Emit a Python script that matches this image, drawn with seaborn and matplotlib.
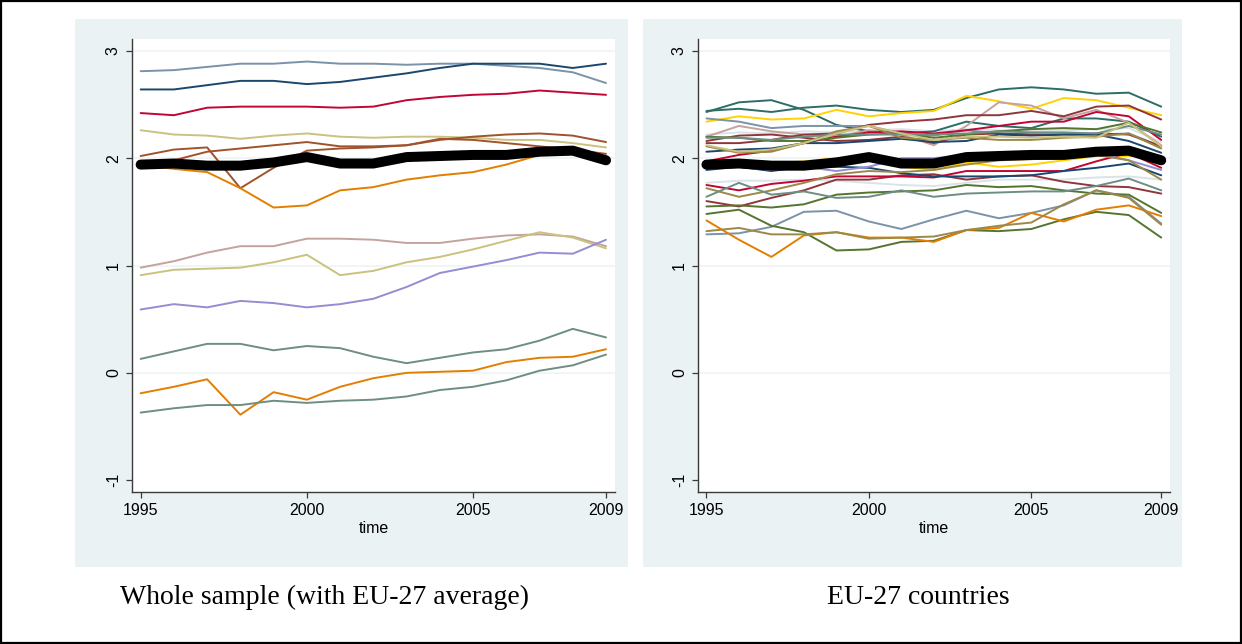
import numpy as np
import pandas as pd
import seaborn as sns
import matplotlib.pyplot as plt
from matplotlib.patches import Rectangle

years = list(range(1995, 2010))

# EU-27 average (thick black line, both panels)
avg = [1.94, 1.95, 1.93, 1.93, 1.96, 2.01, 1.95, 1.95, 2.01, 2.02, 2.03, 2.03, 2.06, 2.07, 1.98]

# left panel: whole sample
L_emidblue = [2.81, 2.82, 2.85, 2.88, 2.88, 2.90, 2.88, 2.88, 2.87, 2.88, 2.88, 2.86, 2.84, 2.80, 2.70]
L_navy = [2.64, 2.64, 2.68, 2.72, 2.72, 2.69, 2.71, 2.75, 2.79, 2.84, 2.88, 2.88, 2.88, 2.84, 2.88]
L_cranberry = [2.42, 2.40, 2.47, 2.48, 2.48, 2.48, 2.47, 2.48, 2.54, 2.57, 2.59, 2.60, 2.63, 2.61, 2.59]
L_khaki1 = [2.26, 2.22, 2.21, 2.18, 2.21, 2.23, 2.20, 2.19, 2.20, 2.20, 2.19, 2.17, 2.17, 2.14, 2.10]
L_sienna1 = [2.02, 2.08, 2.10, 1.72, 1.91, 2.07, 2.09, 2.10, 2.12, 2.18, 2.17, 2.14, 2.11, 2.08, 2.04]
L_sienna2 = [1.96, 1.98, 2.06, 2.09, 2.12, 2.15, 2.11, 2.11, 2.12, 2.17, 2.20, 2.22, 2.23, 2.21, 2.15]
L_orange1 = [1.94, 1.90, 1.87, 1.72, 1.54, 1.56, 1.70, 1.73, 1.80, 1.84, 1.87, 1.94, 2.03, 2.04, 2.00]
L_erose = [0.98, 1.04, 1.12, 1.18, 1.18, 1.25, 1.25, 1.24, 1.21, 1.21, 1.25, 1.28, 1.29, 1.27, 1.18]
L_khaki2 = [0.91, 0.96, 0.97, 0.98, 1.03, 1.10, 0.91, 0.95, 1.03, 1.08, 1.15, 1.23, 1.31, 1.26, 1.16]
L_lavender = [0.59, 0.64, 0.61, 0.67, 0.65, 0.61, 0.64, 0.69, 0.80, 0.93, 0.99, 1.05, 1.12, 1.11, 1.24]
L_teal1 = [0.13, 0.20, 0.27, 0.27, 0.21, 0.25, 0.23, 0.15, 0.09, 0.14, 0.19, 0.22, 0.30, 0.41, 0.33]
L_orange2 = [-0.19, -0.13, -0.06, -0.39, -0.18, -0.25, -0.13, -0.05, 0.00, 0.01, 0.02, 0.10, 0.14, 0.15, 0.22]
L_teal2 = [-0.37, -0.33, -0.30, -0.30, -0.26, -0.28, -0.26, -0.25, -0.22, -0.16, -0.13, -0.07, 0.02, 0.07, 0.17]

# right panel: EU-27 countries
R_emerald1 = [2.44, 2.46, 2.43, 2.47, 2.49, 2.45, 2.43, 2.45, 2.56, 2.64, 2.66, 2.64, 2.60, 2.61, 2.48]
R_emerald2 = [2.43, 2.52, 2.54, 2.45, 2.31, 2.25, 2.23, 2.25, 2.34, 2.30, 2.28, 2.37, 2.37, 2.34, 2.20]
R_gold1 = [2.34, 2.39, 2.36, 2.37, 2.45, 2.39, 2.42, 2.44, 2.58, 2.53, 2.46, 2.56, 2.54, 2.47, 2.40]
R_gold2 = [1.97, 1.95, 1.95, 1.97, 2.00, 2.02, 1.92, 1.89, 1.96, 1.92, 1.94, 1.98, 2.02, 2.02, 2.02]
R_emidblue1 = [2.37, 2.34, 2.28, 2.30, 2.30, 2.30, 2.23, 2.21, 2.26, 2.23, 2.22, 2.22, 2.22, 2.23, 2.11]
R_emidblue2 = [1.29, 1.30, 1.36, 1.50, 1.51, 1.41, 1.34, 1.43, 1.51, 1.44, 1.49, 1.56, 1.70, 1.64, 1.39]
R_erose = [2.20, 2.30, 2.25, 2.22, 2.20, 2.26, 2.22, 2.12, 2.30, 2.52, 2.49, 2.37, 2.45, 2.33, 2.12]
R_maroon1 = [2.14, 2.14, 2.17, 2.22, 2.23, 2.31, 2.34, 2.36, 2.40, 2.40, 2.44, 2.39, 2.48, 2.49, 2.36]
R_maroon2 = [2.16, 2.21, 2.22, 2.19, 2.16, 2.17, 2.20, 2.14, 2.22, 2.23, 2.22, 2.22, 2.23, 2.22, 2.11]
R_maroon3 = [1.60, 1.55, 1.63, 1.70, 1.80, 1.80, 1.84, 1.85, 1.80, 1.83, 1.84, 1.78, 1.74, 1.73, 1.67]
R_cranberry1 = [1.97, 2.03, 2.07, 2.14, 2.20, 2.24, 2.25, 2.23, 2.26, 2.30, 2.34, 2.34, 2.43, 2.39, 2.17]
R_cranberry2 = [1.75, 1.70, 1.76, 1.79, 1.83, 1.83, 1.83, 1.82, 1.88, 1.88, 1.88, 1.88, 1.97, 2.05, 1.91]
R_navy1 = [2.06, 2.08, 2.09, 2.14, 2.14, 2.16, 2.18, 2.15, 2.16, 2.22, 2.21, 2.22, 2.22, 2.16, 2.05]
R_navy2 = [1.89, 1.92, 1.88, 1.92, 1.92, 1.91, 1.86, 1.83, 1.83, 1.83, 1.84, 1.88, 1.91, 1.95, 1.84]
R_lavender = [1.91, 1.92, 1.89, 1.92, 1.88, 1.92, 2.00, 2.00, 2.03, 2.05, 2.05, 2.04, 2.05, 1.98, 1.89]
R_forest1 = [2.20, 2.19, 2.16, 2.16, 2.19, 2.22, 2.23, 2.19, 2.22, 2.25, 2.27, 2.28, 2.27, 2.33, 2.24]
R_forest2 = [1.55, 1.56, 1.54, 1.57, 1.66, 1.68, 1.69, 1.70, 1.75, 1.73, 1.74, 1.70, 1.67, 1.66, 1.49]
R_forest3 = [1.48, 1.52, 1.37, 1.31, 1.14, 1.15, 1.22, 1.23, 1.33, 1.32, 1.34, 1.43, 1.50, 1.47, 1.26]
R_dkorange = [1.42, 1.24, 1.08, 1.28, 1.31, 1.26, 1.26, 1.22, 1.33, 1.35, 1.49, 1.41, 1.52, 1.56, 1.46]
R_brown1 = [1.32, 1.35, 1.29, 1.29, 1.31, 1.25, 1.26, 1.27, 1.33, 1.37, 1.40, 1.57, 1.70, 1.63, 1.38]
R_brown2 = [1.72, 1.64, 1.70, 1.77, 1.85, 1.88, 1.87, 1.89, 1.94, 1.98, 1.99, 2.01, 2.03, 1.98, 1.80]
R_brown3 = [2.11, 2.05, 2.06, 2.14, 2.25, 2.30, 2.19, 2.17, 2.19, 2.17, 2.17, 2.19, 2.20, 2.23, 2.09]
R_teal1 = [1.64, 1.77, 1.66, 1.69, 1.63, 1.64, 1.70, 1.64, 1.67, 1.68, 1.69, 1.69, 1.74, 1.81, 1.70]
R_teal2 = [2.19, 2.19, 2.17, 2.20, 2.22, 2.22, 2.22, 2.22, 2.23, 2.25, 2.24, 2.24, 2.23, 2.30, 2.22]
R_bgray1 = [1.77, 1.79, 1.79, 1.80, 1.79, 1.77, 1.75, 1.74, 1.77, 1.80, 1.80, 1.80, 1.82, 1.83, 1.80]
R_bgray2 = [2.22, 2.24, 2.23, 2.25, 2.24, 2.26, 2.27, 2.25, 2.27, 2.26, 2.25, 2.26, 2.27, 2.28, 2.15]
R_khaki = [2.12, 2.06, 2.08, 2.14, 2.23, 2.30, 2.23, 2.17, 2.20, 2.20, 2.19, 2.20, 2.19, 2.33, 2.11]

# stata s2color-ish colours
navy = "#1a476f"; maroon = "#90353b"; forest = "#55752f"; dkorange = "#e37e00"
teal = "#6e8e84"; cranberry = "#c10534"; lavender = "#938dd2"; khaki = "#cac27e"
sienna = "#a0522d"; emidblue = "#7b92a8"; emerald = "#2d6d66"; brown = "#9c8847"
erose = "#c4a39d"; gold = "#ffd200"; bgray = "#d9e3e8"

left = [(L_emidblue, emidblue), (L_navy, navy), (L_cranberry, cranberry), (L_khaki1, khaki),
        (L_sienna1, sienna), (L_sienna2, sienna), (L_orange1, dkorange), (L_erose, erose),
        (L_khaki2, khaki), (L_lavender, lavender), (L_teal1, teal), (L_orange2, dkorange),
        (L_teal2, teal)]
right = [(R_bgray1, bgray), (R_bgray2, bgray), (R_emerald1, emerald), (R_emerald2, emerald),
         (R_gold1, gold), (R_gold2, gold), (R_emidblue1, emidblue), (R_emidblue2, emidblue),
         (R_erose, erose), (R_maroon1, maroon), (R_maroon2, maroon), (R_maroon3, maroon),
         (R_cranberry1, cranberry), (R_cranberry2, cranberry), (R_navy1, navy), (R_navy2, navy),
         (R_lavender, lavender), (R_forest1, forest), (R_forest2, forest), (R_forest3, forest),
         (R_dkorange, dkorange), (R_brown1, brown), (R_brown2, brown), (R_brown3, brown),
         (R_teal1, teal), (R_teal2, teal), (R_khaki, khaki)]


def to_long(series):
    rows = []
    pal = {}
    for i, (vals, col) in enumerate(series):
        name = "s%02d" % i
        pal[name] = col
        for y, v in zip(years, vals):
            rows.append((name, y, v))
    return pd.DataFrame(rows, columns=["id", "time", "value"]), pal


sns.set_style("white")
plt.rcParams["font.family"] = ["Liberation Sans Narrow", "Liberation Sans", "DejaVu Sans"]
plt.rcParams["text.color"] = "black"
plt.rcParams["xtick.color"] = "black"
plt.rcParams["ytick.color"] = "black"
plt.rcParams["axes.labelcolor"] = "black"

fig = plt.figure(figsize=(12.42, 6.44), dpi=100)
W, H = 1242.0, 644.0

# light panel backgrounds (stata graph region)
bgcol = "#eaf2f3"
bg_ax = fig.add_axes([0, 0, 1, 1], zorder=-1)
bg_ax.set_xlim(0, W)
bg_ax.set_ylim(H, 0)
bg_ax.axis("off")
bg_ax.add_patch(Rectangle((75, 19), 628 - 75, 567 - 19, facecolor=bgcol, edgecolor="none"))
bg_ax.add_patch(Rectangle((643, 19), 1182 - 643, 567 - 19, facecolor=bgcol, edgecolor="none"))
bg_ax.add_patch(Rectangle((1, 1), W - 2, H - 2, facecolor="none", edgecolor="black", lw=1.6))
bg_ax.text(325, 597, "Whole sample (with EU-27 average)", ha="center", va="center",
           fontsize=20, family="Liberation Serif", color="black")
bg_ax.text(918, 597, "EU-27 countries", ha="center", va="center",
           fontsize=20, family="Liberation Serif", color="black")

ax1 = fig.add_axes([132 / W, 1 - 492 / H, (615 - 132) / W, (492 - 39) / H], zorder=2)
ax2 = fig.add_axes([698 / W, 1 - 492 / H, (1170 - 698) / W, (492 - 39) / H], zorder=2)

avg_df = pd.DataFrame({"time": years, "value": avg})

for ax, series in [(ax1, left), (ax2, right)]:
    df, pal = to_long(series)
    sns.lineplot(data=df, x="time", y="value", hue="id", palette=pal, estimator=None,
                 linewidth=1.4, legend=False, ax=ax)
    sns.lineplot(data=avg_df, x="time", y="value", color="black", linewidth=7.2,
                 estimator=None, ax=ax)
    ax.set_xlim(1994.74, 2009.27)
    ax.set_ylim(-1.11, 3.11)
    ax.set_xticks([1995, 2000, 2005, 2009])
    ax.set_yticks([-1, 0, 1, 2, 3])
    ax.set_yticklabels(["-1", "0", "1", "2", "3"], rotation=90, va="center")
    for t in [0, 1, 2, 3]:
        ax.axhline(t, color="#edf3f4", lw=1.2, zorder=0)
    ax.set_xlabel("time", fontsize=11.5, labelpad=2)
    ax.set_ylabel("")
    for s in ["top", "right"]:
        ax.spines[s].set_visible(False)
    for s in ["left", "bottom"]:
        ax.spines[s].set_color("#3a3a3a")
        ax.spines[s].set_linewidth(1.0)
    ax.tick_params(direction="out", length=4, width=0.9, color="#3a3a3a",
                   labelsize=11.5, pad=4, left=True, bottom=True)
    ax.set_facecolor("white")

fig.savefig("out.png", dpi=100)
